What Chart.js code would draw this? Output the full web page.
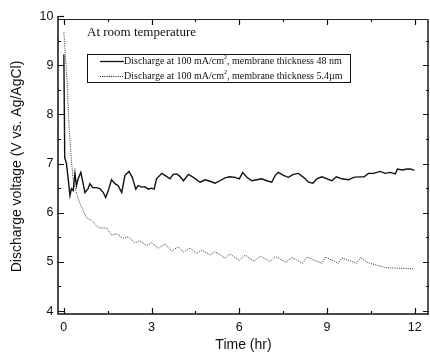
<!DOCTYPE html>
<html>
<head>
<meta charset="utf-8">
<script src="https://cdn.jsdelivr.net/npm/chart.js@4.4.1/dist/chart.umd.min.js"></script>
<style>
  html, body { margin: 0; padding: 0; background: #fff; }
  #wrap { width: 430px; height: 354px; }
</style>
</head>
<body>
<div id="wrap"><canvas id="chart" width="430" height="354"></canvas></div>
<script>
// membrane 48 nm (solid)
var time48 = [0, 0.03, 0.09, 0.21, 0.26, 0.32, 0.38, 0.43, 0.49, 0.58, 0.66, 0.72, 0.83, 0.89, 0.99,
    1.12, 1.23, 1.35, 1.43, 1.52, 1.63, 1.75, 1.86, 1.98, 2.09, 2.23, 2.34, 2.46, 2.54, 2.66, 2.77,
    2.89, 3.00, 3.09, 3.17, 3.35, 3.46, 3.63, 3.74, 3.86, 3.97, 4.09, 4.26, 4.43, 4.66, 4.83, 5.00,
    5.17, 5.34, 5.51, 5.68, 5.86, 6.00, 6.12, 6.26, 6.43, 6.60, 6.77, 6.94, 7.11, 7.23, 7.34, 7.51,
    7.68, 7.85, 8.02, 8.20, 8.37, 8.52, 8.65, 8.83, 9.00, 9.17, 9.32, 9.51, 9.74, 9.91, 10.11, 10.27,
    10.42, 10.59, 10.82, 10.99, 11.16, 11.34, 11.41, 11.57, 11.74, 11.85, 11.99];
var volt48 = [9.22, 7.12, 7.0, 6.35, 6.49, 6.45, 6.8, 6.55, 6.69, 6.82, 6.59, 6.41, 6.49, 6.59, 6.51,
    6.51, 6.49, 6.41, 6.31, 6.45, 6.67, 6.59, 6.55, 6.41, 6.76, 6.84, 6.72, 6.48, 6.55, 6.52, 6.53,
    6.48, 6.50, 6.48, 6.69, 6.80, 6.76, 6.69, 6.78, 6.79, 6.74, 6.65, 6.78, 6.72, 6.62, 6.67, 6.64,
    6.60, 6.65, 6.71, 6.73, 6.72, 6.69, 6.82, 6.72, 6.65, 6.67, 6.69, 6.65, 6.62, 6.76, 6.82, 6.76,
    6.72, 6.78, 6.80, 6.72, 6.62, 6.60, 6.69, 6.73, 6.69, 6.65, 6.73, 6.69, 6.67, 6.72, 6.73, 6.73,
    6.80, 6.80, 6.84, 6.80, 6.82, 6.79, 6.89, 6.87, 6.89, 6.89, 6.86];

// membrane 5.4 um (dotted)
var time54 = [0, 0.11, 0.18, 0.26, 0.32, 0.49, 0.66, 0.78, 0.95, 1.12, 1.23, 1.46, 1.63, 1.80, 2.03,
    2.20, 2.43, 2.60, 2.83, 3.00, 3.23, 3.46, 3.69, 3.91, 4.09, 4.32, 4.54, 4.72, 5.00, 5.17, 5.51,
    5.68, 6.00, 6.20, 6.51, 6.71, 7.05, 7.23, 7.60, 7.80, 8.17, 8.31, 8.83, 8.94, 9.39, 9.51, 10.02,
    10.14, 10.37, 10.65, 11.05, 11.51, 11.96];
var volt54 = [9.67, 8.69, 7.74, 7.06, 6.65, 6.28, 6.04, 5.90, 5.84, 5.73, 5.69, 5.69, 5.55, 5.57, 5.48,
    5.51, 5.39, 5.43, 5.33, 5.39, 5.28, 5.36, 5.22, 5.31, 5.20, 5.28, 5.17, 5.24, 5.14, 5.21, 5.08,
    5.16, 5.03, 5.14, 5.01, 5.12, 5.01, 5.11, 4.99, 5.09, 4.97, 5.10, 4.97, 5.10, 4.97, 5.08, 4.97,
    5.09, 4.99, 4.94, 4.88, 4.87, 4.86];

var xTicks = [0, 3, 6, 9, 12];
var yTicks = [4, 5, 6, 7, 8, 9, 10];
var xMinor = [1.5, 4.5, 7.5, 10.5];
var yMinor = [4.5, 5.5, 6.5, 7.5, 8.5, 9.5];

var legendText = ['Discharge at 100 mA/cm', ', membrane thickness 48 nm',
                  'Discharge at 100 mA/cm', ', membrane thickness 5.4\u00b5m'];
var noteText = 'At room temperature';

function toPoints(xs, ys) {
    return xs.map(function (x, i) { return { x: x, y: ys[i] }; });
}

// inward ticks, frame, legend box and note
var framePlugin = {
    id: 'frame',
    afterDraw: function (chart) {
        var ctx = chart.ctx;
        var a = chart.chartArea;
        var xs = chart.scales.x, ys = chart.scales.y;
        ctx.save();
        // frame
        ctx.strokeStyle = '#222';
        ctx.lineWidth = 1;
        ctx.beginPath();
        ctx.moveTo(a.left, a.top + 0.5); ctx.lineTo(a.right, a.top + 0.5);
        ctx.stroke();
        ctx.strokeStyle = '#555';
        ctx.lineWidth = 2;
        ctx.beginPath();
        ctx.moveTo(a.right - 1, a.top); ctx.lineTo(a.right - 1, a.bottom);
        ctx.stroke();
        ctx.strokeStyle = '#111';
        ctx.lineWidth = 1.5;
        ctx.beginPath();
        ctx.moveTo(a.left, ys.getPixelForValue(10)); ctx.lineTo(a.left, a.bottom);
        ctx.lineTo(a.right, a.bottom);
        ctx.stroke();

        // ticks pointing inward
        ctx.lineWidth = 1.2;
        ctx.strokeStyle = '#111';
        function xt(v, len) {
            var px = Math.round(xs.getPixelForValue(v)) + 0.5;
            ctx.beginPath();
            ctx.moveTo(px, a.bottom); ctx.lineTo(px, a.bottom - len);
            ctx.moveTo(px, a.top); ctx.lineTo(px, a.top + len);
            ctx.stroke();
        }
        function yt(v, len) {
            var py = Math.round(ys.getPixelForValue(v)) + 0.5;
            ctx.beginPath();
            ctx.moveTo(a.left, py); ctx.lineTo(a.left + len, py);
            if (v < 9.95) { ctx.moveTo(a.right, py); ctx.lineTo(a.right - len, py); }
            ctx.stroke();
        }
        xTicks.forEach(function (v) { xt(v, 6); });
        xMinor.forEach(function (v) { xt(v, 3); });
        yTicks.forEach(function (v) { yt(v, 6); });
        yMinor.forEach(function (v) { yt(v, 3); });

        // note
        ctx.fillStyle = '#111';
        ctx.font = '13px "Liberation Serif", "Times New Roman", serif';
        ctx.textBaseline = 'middle';
        ctx.textAlign = 'left';
        ctx.fillText(noteText, 87, 33);

        // legend box
        ctx.strokeStyle = '#111';
        ctx.lineWidth = 1;
        ctx.strokeRect(87.5, 54.5, 263, 28);
        var rows = [61.5, 76.5];
        for (var r = 0; r < 2; r++) {
            var y = rows[r];
            ctx.beginPath();
            if (r === 1) { ctx.setLineDash([1, 1.2]); ctx.lineWidth = 1; } else { ctx.setLineDash([]); ctx.lineWidth = 1.3; }
            ctx.moveTo(100, y); ctx.lineTo(124, y);
            ctx.stroke();
            ctx.setLineDash([]);
            var x = 124;
            ctx.font = '10px "Liberation Serif", "Times New Roman", serif';
            ctx.fillText(legendText[r * 2], x, y);
            x += ctx.measureText(legendText[r * 2]).width;
            ctx.font = '6px "Liberation Serif", "Times New Roman", serif';
            ctx.fillText('2', x, y - 4);
            x += ctx.measureText('2').width;
            ctx.font = '10px "Liberation Serif", "Times New Roman", serif';
            ctx.fillText(legendText[r * 2 + 1], x, y);
        }
        ctx.restore();
    }
};

new Chart(document.getElementById('chart').getContext('2d'), {
    type: 'line',
    data: {
        datasets: [{
            label: 'Discharge at 100 mA/cm2, membrane thickness 48 nm',
            data: toPoints(time48, volt48),
            borderColor: '#111',
            borderWidth: 1.4,
            pointRadius: 0,
            tension: 0,
            fill: false
        }, {
            label: 'Discharge at 100 mA/cm2, membrane thickness 5.4um',
            data: toPoints(time54, volt54),
            borderColor: '#333',
            borderWidth: 1,
            borderDash: [1, 1.2],
            pointRadius: 0,
            tension: 0,
            fill: false
        }]
    },
    options: {
        responsive: false,
        animation: false,
        layout: { padding: { top: 19, right: 1, left: 0, bottom: 0 } },
        plugins: {
            legend: { display: false },
            tooltip: { enabled: false }
        },
        scales: {
            x: {
                type: 'linear',
                min: -0.2,
                max: 12.49,
                border: { display: false },
                grid: { display: false, drawTicks: false },
                afterBuildTicks: function (scale) {
                    scale.ticks = xTicks.map(function (v) { return { value: v }; });
                },
                afterFit: function (scale) { scale.height = 40; },
                ticks: {
                    padding: 6,
                    color: '#111',
                    font: { family: '"Liberation Sans", Arial, sans-serif', size: 12.5 },
                    maxRotation: 0
                },
                title: {
                    display: true,
                    text: 'Time (hr)',
                    color: '#111',
                    padding: { top: 0, bottom: 0.5 },
                    font: { family: '"Liberation Sans", Arial, sans-serif', size: 14 }
                }
            },
            y: {
                min: 3.94,
                max: 9.94,
                border: { display: false },
                grid: { display: false, drawTicks: false },
                afterBuildTicks: function (scale) {
                    scale.ticks = yTicks.map(function (v) { return { value: v }; });
                },
                afterFit: function (scale) { scale.width = 58; },
                ticks: {
                    padding: 4.5,
                    color: '#111',
                    font: { family: '"Liberation Sans", Arial, sans-serif', size: 12.5 }
                },
                title: {
                    display: true,
                    text: 'Discharge voltage (V vs. Ag/AgCl)',
                    color: '#111',
                    padding: { top: 8.5, bottom: 0 },
                    font: { family: '"Liberation Sans", Arial, sans-serif', size: 14 }
                }
            }
        }
    },
    plugins: [framePlugin]
});
</script>
</body>
</html>
